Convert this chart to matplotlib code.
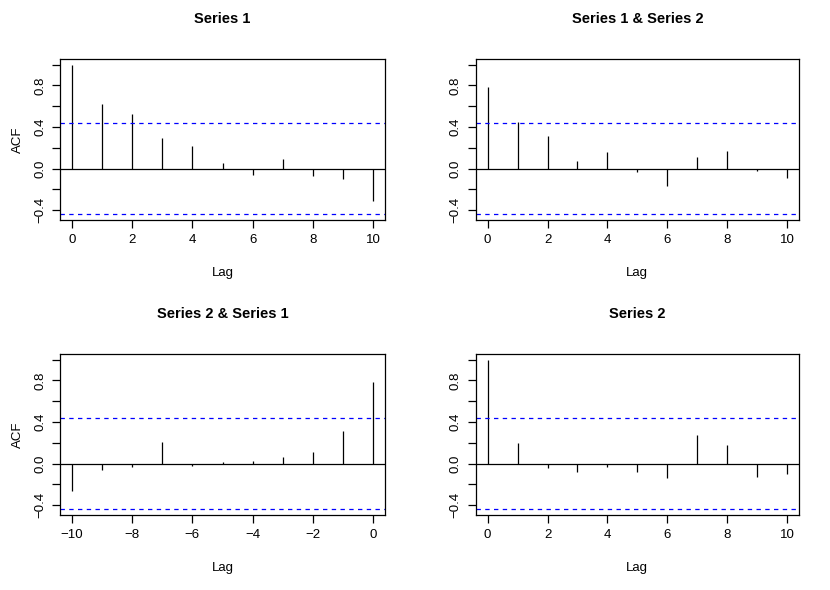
import matplotlib
matplotlib.use("Agg")
import matplotlib.pyplot as plt
import numpy as np

plt.rcParams['font.family'] = ['Liberation Sans', 'DejaVu Sans']

# values
lags_pos = [0, 1, 2, 3, 4, 5, 6, 7, 8, 9, 10]
lags_neg = [-10, -9, -8, -7, -6, -5, -4, -3, -2, -1, 0]

acf_s1 = [1.0, 0.618, 0.53, 0.29, 0.215, 0.058, -0.062, 0.094, -0.075, -0.10, -0.309]
ccf_s1_s2 = [0.787, 0.449, 0.315, 0.068, 0.156, -0.036, -0.169, 0.11, 0.166, -0.023, -0.094]
ccf_s2_s1 = [-0.263, -0.06, -0.036, 0.208, -0.025, 0.016, 0.02, 0.065, 0.114, 0.312, 0.784]
acf_s2 = [1.0, 0.198, -0.045, -0.08, -0.03, -0.078, -0.143, 0.276, 0.179, -0.133, -0.104]

titles = ["Series 1", "Series 1 & Series 2", "Series 2 & Series 1", "Series 2"]
conf_limit = 0.438

panels = [
    (lags_pos, acf_s1, [0.0723, 0.6271, 0.3916, 0.2734], True),
    (lags_pos, ccf_s1_s2, [0.5731, 0.6271, 0.3896, 0.2734], False),
    (lags_neg, ccf_s2_s1, [0.0723, 0.1271, 0.3916, 0.2734], True),
    (lags_pos, acf_s2, [0.5731, 0.1271, 0.3896, 0.2734], False),
]

fig = plt.figure(figsize=(8.3, 5.9), dpi=100)

for (lags, vals, pos, show_ylab), title in zip(panels, titles):
    ax = fig.add_axes(pos)
    ax.vlines(lags, 0, vals, color="black", lw=0.9)
    ax.axhline(0, color="black", lw=0.9)
    ax.axhline(conf_limit, color="blue", lw=0.9, ls=(0, (3.5, 3.5)))
    ax.axhline(-conf_limit, color="blue", lw=0.9, ls=(0, (3.5, 3.5)))

    lo, hi = min(lags), max(lags)
    ticks = np.arange(lo, hi + 1, 2)
    ax.set_xlim(lo - 0.4, hi + 0.4)
    ax.set_ylim(-0.496, 1.058)
    ax.set_xticks(ticks)
    ax.set_xticklabels([str(t).replace("-", "\u2212") for t in ticks])
    ax.set_yticks([-0.4, 0.0, 0.4, 0.8])
    ax.set_yticklabels(["\u22120.4", "0.0", "0.4", "0.8"], rotation=90, va="center")
    ax.set_yticks([-0.2, 0.2, 0.6, 1.0], minor=True)
    ax.tick_params(axis="both", which="both", direction="out", length=6,
                   width=0.9, labelsize=9.5, pad=4)
    for s in ax.spines.values():
        s.set_linewidth(0.9)

    ax.set_title(title, fontsize=10.5, fontweight="bold", pad=26)
    ax.set_xlabel("Lag", fontsize=9.5, labelpad=15)
    if show_ylab:
        ax.set_ylabel("ACF", fontsize=9.5, labelpad=7)

fig.savefig("out.png", dpi=100)
